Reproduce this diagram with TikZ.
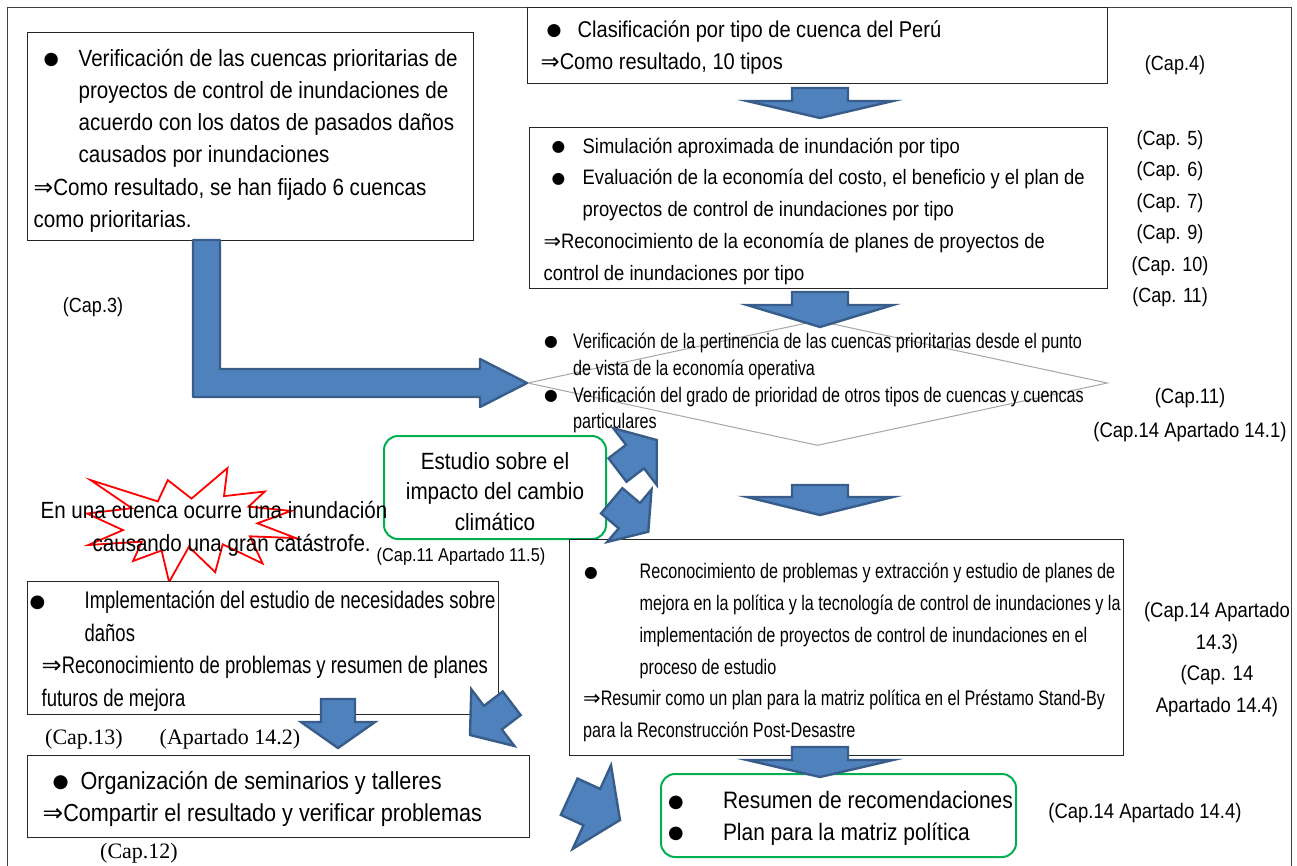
\documentclass[tikz,border=0pt]{standalone}
\usepackage{fontspec}
\setmainfont{Liberation Sans}[FakeStretch=0.88]
\newfontfamily\narrowfont{Liberation Sans}[FakeStretch=0.77]
\newfontfamily\symfont{DejaVu Sans}
\newfontfamily\capserif{Liberation Serif}
\usetikzlibrary{shapes.geometric,calc}

\definecolor{arrowfill}{HTML}{4F81BD}
\definecolor{arrowline}{HTML}{385D8A}
\definecolor{studygreen}{HTML}{00B050}
\definecolor{diamondgray}{HTML}{A6A6A6}

% indentation of bullet, bullet text and plain lines inside a box
\newlength\bulletx
\newlength\textx
\newlength\plainx
\newcommand\bulletmark{\raisebox{0.12ex}{\scalebox{0.75}{\symfont ●}}}
\newcommand\thenarrow{{\symfont ⇒}}
\newcommand\bulline[1]{\mbox{\hspace*{\bulletx}\makebox[\dimexpr\textx-\bulletx\relax][l]{\bulletmark}#1}}
\newcommand\contline[1]{\mbox{\hspace*{\textx}#1}}
\newcommand\plainline[1]{\mbox{\hspace*{\plainx}#1}}
% first line with extra head room, which lowers a centred block of lines
\newcommand\liftline[2]{\setbox0=\hbox{#2}\rule{0pt}{\dimexpr\ht0+#1\relax}\box0}
% interword space matching the condensed letters
\newcommand\wide{\spaceskip=0.245em\relax\xspaceskip=0.245em\relax}
\newcommand\narrow{\spaceskip=0.214em\relax\xspaceskip=0.214em\relax}

% block arrow: tail, tip, shaft half-width, head half-width, head length
\newcommand\fatarrow[5]{%
  \coordinate (fa-base) at ($(#2)!#5!(#1)$);
  \draw[blockarrow] ($(#1)!#3!90:(#2)$) -- ($(fa-base)!#3!90:(#2)$)
    -- ($(fa-base)!#4!90:(#2)$) -- (#2) -- ($(fa-base)!#4!-90:(#2)$)
    -- ($(fa-base)!#3!-90:(#2)$) -- ($(#1)!#3!-90:(#2)$) -- cycle;
}

\begin{document}
\begin{tikzpicture}[x=1pt,y=-1pt,
  box/.style={draw=black!85, line width=1.3pt, fill=white, inner ysep=0pt,
    anchor=north west, align=left, execute at begin node=\wide},
  narrowbox/.style={box, execute at begin node=\narrow},
  greenbox/.style={draw=studygreen, line width=2pt, rounded corners=14pt,
    fill=white, inner sep=0pt, anchor=north west, execute at begin node=\wide},
  lbl/.style={inner sep=0pt, align=center, font={\fontsize{20.5pt}{31.5pt}\selectfont}},
  serlbl/.style={inner sep=0pt, font={\capserif\fontsize{22pt}{26pt}\selectfont}},
  blockarrow/.style={fill=arrowfill, draw=arrowline, line width=2.4pt, line join=miter},
  starline/.style={draw=red, line width=1.8pt, fill=white, line join=miter},
  frame/.style={draw=black!75, line width=0.9pt}]

\useasboundingbox (0,0) rectangle (1297,865);

% outer frame
\draw[frame] (7,880) -- (7,7) -- (1291,7) -- (1291,880);

% priority basins
\node[box, inner xsep=6pt, minimum width=446pt, minimum height=208pt, text width=434pt,
  font={\fontsize{23.4pt}{32.2pt}\selectfont}] (prio) at (27,32) {%
  \setlength\bulletx{10pt}\setlength\textx{45pt}%
  \liftline{8pt}{\bulline{Verificación de las cuencas prioritarias de}}\\
  \contline{proyectos de control de inundaciones de}\\
  \contline{acuerdo con los datos de pasados daños}\\
  \contline{causados por inundaciones}\\
  \plainline{\thenarrow Como resultado, se han fijado 6 cuencas}\\
  \plainline{como prioritarias.}};

% basin types
\node[box, inner xsep=13pt, minimum width=580pt, minimum height=76pt, text width=554pt,
  font={\fontsize{22.8pt}{32.5pt}\selectfont}] (tipos) at (527,7) {%
  \setlength\bulletx{6pt}\setlength\textx{37pt}%
  \liftline{4pt}{\bulline{Clasificación por tipo de cuenca del Perú}}\\
  \plainline{\thenarrow Como resultado, 10 tipos}};

% simulation and economy
\node[box, inner xsep=14pt, minimum width=578pt, minimum height=161pt, text width=550pt,
  font={\fontsize{20.9pt}{31.7pt}\selectfont}] (econ) at (529,127) {%
  \setlength\bulletx{8pt}\setlength\textx{39pt}%
  \liftline{6pt}{\bulline{Simulación aproximada de inundación por tipo}}\\
  \bulline{Evaluación de la economía del costo, el beneficio y el plan de}\\
  \contline{proyectos de control de inundaciones por tipo}\\
  \plainline{\thenarrow Reconocimiento de la economía de planes de proyectos de}\\
  \plainline{control de inundaciones por tipo}};

% verification diamond
\node[diamond, draw=diamondgray, line width=1pt, minimum width=580pt,
  minimum height=125pt, inner sep=0pt] (check) at (817.5,383) {};
\node[anchor=west, inner sep=0pt, text width=560pt, align=left, execute at begin node=\narrow,
  font={\narrowfont\fontsize{21pt}{26.9pt}\selectfont}] (checktext) at (544,383) {%
  \setlength\bulletx{0pt}\setlength\textx{29pt}%
  \bulline{Verificación de la pertinencia de las cuencas prioritarias desde el punto}\\
  \contline{de vista de la economía operativa}\\
  \bulline{Verificación del grado de prioridad de otros tipos de cuencas y cuencas}\\
  \contline{particulares}};

% climate change study
\node[greenbox, minimum width=222pt, minimum height=103pt, align=center,
  font={\fontsize{23.5pt}{30.5pt}\selectfont}] (clima) at (383,435)
  {\liftline{8pt}{Estudio sobre el}\\impacto del cambio\\climático};
\node[inner sep=0pt, font={\fontsize{18.6pt}{22pt}\selectfont}] (cap115) at (461,557)
  {(Cap.11 Apartado 11.5)};

% disaster explosion
\draw[starline] (191.5,498.6) -- (227.5,468) -- (224.0,496.1) -- (264.8,491.5)
  -- (248.6,506.6) -- (291.1,510.9) -- (257.4,523.3) -- (296,538.1)
  -- (249.9,536.3) -- (262.6,563.5) -- (222.7,544.3) -- (215.2,572.2)
  -- (188.9,546.8) -- (169.1,582) -- (161.6,550.5) -- (133.1,561.0)
  -- (141.8,541.6) -- (88.3,545.0) -- (123.0,530.1) -- (87,513.5)
  -- (131.8,508.2) -- (90.6,480.1) -- (157.8,501.4) -- (167.8,480.1) -- cycle;
\node[inner sep=0pt, align=left, font={\fontsize{23.4pt}{33pt}\selectfont}] (desastre)
  at (214,529) {En una cuenca ocurre una inundación\\
  \hspace*{52pt}causando una gran catástrofe.};

% damage needs study
\node[narrowbox, inner xsep=2pt, minimum width=471pt, minimum height=133pt, text width=467pt,
  font={\narrowfont\fontsize{24pt}{32.5pt}\selectfont}] (necesidades) at (27,581) {%
  \setlength\bulletx{0pt}\setlength\textx{55pt}\setlength\plainx{12pt}%
  \liftline{6pt}{\bulline{Implementación del estudio de necesidades sobre}}\\
  \contline{daños}\\
  \plainline{\thenarrow Reconocimiento de problemas y resumen de planes}\\
  \plainline{futuros de mejora}};

\node[serlbl] (cap13) at (84,739) {(Cap.13)};
\node[serlbl] (ap142) at (230,739) {(Apartado 14.2)};

% seminars
\node[box, inner xsep=15pt, minimum width=502pt, minimum height=82pt, text width=472pt,
  font={\fontsize{24.6pt}{32pt}\selectfont}] (seminarios) at (27,755) {%
  \setlength\bulletx{10pt}\setlength\textx{38pt}%
  \liftline{4pt}{\bulline{Organización de seminarios y talleres}}\\
  \plainline{\thenarrow Compartir el resultado y verificar problemas}};
\node[serlbl] (cap12) at (139,853) {(Cap.12)};

% policy and technology problems
\node[narrowbox, inner xsep=14pt, minimum width=554pt, minimum height=216pt, text width=526pt,
  font={\narrowfont\fontsize{21pt}{31.8pt}\selectfont}] (politica) at (568.5,539) {%
  \setlength\bulletx{1pt}\setlength\textx{56.5pt}%
  \liftline{10pt}{\bulline{Reconocimiento de problemas y extracción y estudio de planes de}}\\
  \contline{mejora en la política y la tecnología de control de inundaciones y la}\\
  \contline{implementación de proyectos de control de inundaciones en el}\\
  \contline{proceso de estudio}\\
  \plainline{\thenarrow Resumir como un plan para la matriz política en el Préstamo Stand-By}\\
  \plainline{para la Reconstrucción Post-Desastre}};

% recommendations
\node[greenbox, inner xsep=7pt, minimum width=355pt, minimum height=83pt, text width=341pt,
  align=left, font={\fontsize{23.8pt}{31.5pt}\selectfont}] (resumen) at (660,773) {%
  \setlength\bulletx{0pt}\setlength\textx{55pt}%
  \liftline{6pt}{\bulline{Resumen de recomendaciones}}\\
  \bulline{Plan para la matriz política}};

% chapter references
\node[lbl] (cap4) at (1175,65) {(Cap.4)};
\node[lbl] (cap5) at (1170,218.5) {(Cap. 5)\\(Cap. 6)\\(Cap. 7)\\(Cap. 9)\\(Cap. 10)\\(Cap. 11)};
\node[lbl] (cap3) at (93,307) {(Cap.3)};
\node[lbl, font={\fontsize{21pt}{34pt}\selectfont}] (cap141) at (1190,415)
  {(Cap.11)\\(Cap.14 Apartado 14.1)};
\node[lbl, font={\fontsize{21pt}{31.5pt}\selectfont}] (cap143) at (1217,659.5)
  {(Cap.14 Apartado\\14.3)\\(Cap. 14\\Apartado 14.4)};
\node[lbl, font={\fontsize{21pt}{31.5pt}\selectfont}] (cap144) at (1145,813)
  {(Cap.14 Apartado 14.4)};

% flow arrows
\draw[blockarrow, line join=round] (193,240) -- (220,240) -- (220,369) -- (480,369)
  -- (480,359) -- (check.west) -- (480,407) -- (480,397) -- (193,397) -- cycle;

\coordinate (a1t) at (820,88);  \coordinate (a1h) at (820,118);
\fatarrow{a1t}{a1h}{28pt}{73pt}{17pt}
\coordinate (a2t) at (820,292); \coordinate (a2h) at (820,327);
\fatarrow{a2t}{a2h}{28pt}{73pt}{22pt}
\coordinate (a3t) at (820,485); \coordinate (a3h) at (820,515);
\fatarrow{a3t}{a3h}{28pt}{73pt}{18pt}
\coordinate (a4t) at (820,747); \coordinate (a4h) at (820,777);
\fatarrow{a4t}{a4h}{28pt}{73pt}{17pt}
\coordinate (a5t) at (338,699); \coordinate (a5h) at (338,748);
\fatarrow{a5t}{a5h}{17pt}{37pt}{26pt}

\coordinate (d1t) at (617.5,470);   \coordinate (d1h) at (656.7,440);
\fatarrow{d1t}{d1h}{14.8pt}{35.8pt}{27.3pt}
\coordinate (d2t) at (611.7,500.8); \coordinate (d2h) at (648.3,531.7);
\fatarrow{d2t}{d2h}{16.5pt}{34.4pt}{24.8pt}
\coordinate (d3t) at (511.7,703.3); \coordinate (d3h) at (470,735);
\fatarrow{d3t}{d3h}{14.8pt}{35.6pt}{28.7pt}
\coordinate (d4t) at (569.2,796.7); \coordinate (d4h) at (620,820);
\fatarrow{d4t}{d4h}{20pt}{46pt}{31pt}

\end{tikzpicture}
\end{document}
